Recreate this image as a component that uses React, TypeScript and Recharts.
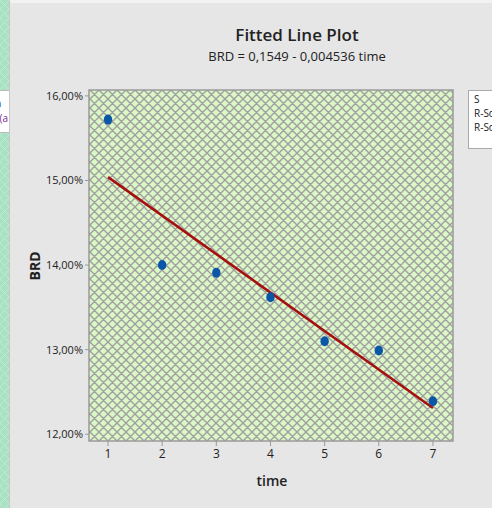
import React from 'react';
import { ComposedChart, Scatter, Line, XAxis, YAxis, ReferenceArea } from 'recharts';

const times = [1, 2, 3, 4, 5, 6, 7];
const brdValues = [15.72, 14.0, 13.91, 13.62, 13.1, 12.99, 12.39];
const fitTimes = [1, 7];
const fitValues = [15.04, 12.31];
const yTicks = [12, 13, 14, 15, 16];
const xTicks = [1, 2, 3, 4, 5, 6, 7];
const legendLines = ['S', 'R-Sq', 'R-Sq(adj)'];

const data = times.map((t, i) => {
  const fi = fitTimes.indexOf(t);
  return { time: t, brd: brdValues[i], fit: fi >= 0 ? fitValues[fi] : null };
});

const FONT = '"Open Sans", "Noto Sans", sans-serif';

const Dot = (props: any) => {
  const { cx, cy } = props;
  if (cx == null || cy == null) return null;
  return <ellipse cx={cx} cy={cy} rx={4.2} ry={5} fill="#0a57a8" />;
};

const fmtPct = (v: number) => v.toFixed(2).replace('.', ',') + '%';

export default function App() {
  return (
    <div style={{ position: 'absolute', left: 0, top: 0, width: 492, height: 508, background: '#e6e6e6', overflow: 'hidden', fontFamily: FONT }}>
      <div style={{ position: 'absolute', left: 0, top: 0, width: 492, height: 3, background: '#f2f2f2' }} />
      <svg style={{ position: 'absolute', left: 0, top: 0 }} width={10} height={508}>
        <defs>
          <pattern id="hatchL" width="9" height="9" patternUnits="userSpaceOnUse">
            <rect width="9" height="9" fill="#a9e2c3" />
            <path d="M0,0 L9,9 M9,0 L0,9" stroke="#bfe9d2" strokeWidth="1" />
          </pattern>
        </defs>
        <rect x={0} y={0} width={9} height={508} fill="url(#hatchL)" />
        <rect x={9} y={0} width={1} height={508} fill="#c8c8c8" />
      </svg>
      <div style={{ position: 'absolute', left: 0, top: 90, width: 9, height: 41, background: '#ffffff', borderTop: '1px solid #bbb', borderBottom: '1px solid #bbb', overflow: 'hidden' }}>
        <div style={{ position: 'absolute', left: -6, top: 6, fontSize: 11, lineHeight: '12px', color: '#1a1a9a', fontWeight: 700, whiteSpace: 'nowrap' }}>n</div>
        <div style={{ position: 'absolute', left: -6, top: 21, fontSize: 10, lineHeight: '12px', color: '#7a2a9a', whiteSpace: 'nowrap' }}><span style={{ color: '#1a1a9a' }}>g</span>(a</div>
      </div>
      <div style={{ position: 'absolute', left: 0, width: 594, top: 25, textAlign: 'center', fontSize: 17, fontWeight: 600, color: '#222', lineHeight: '20px' }}>Fitted Line Plot</div>
      <div style={{ position: 'absolute', left: 0, width: 594, top: 48, textAlign: 'center', fontSize: 13, color: '#222', lineHeight: '16px' }}>BRD = 0,1549 - 0,004536 time</div>
      <div style={{ position: 'absolute', left: 35, top: 266, width: 0, height: 0 }}>
        <div style={{ position: 'absolute', left: -30, top: -9, width: 60, textAlign: 'center', transform: 'rotate(-90deg)', fontSize: 14, fontWeight: 700, color: '#222', lineHeight: '18px' }}>BRD</div>
      </div>
      <div style={{ position: 'absolute', left: 232, top: 471, width: 80, textAlign: 'center', fontSize: 14, fontWeight: 600, color: '#222', lineHeight: '20px' }}>time</div>
      <div style={{ position: 'absolute', left: 468, top: 90, width: 60, height: 59, background: '#fff', border: '1px solid #aaa', boxSizing: 'border-box' }}>
        {legendLines.map((l, i) => (
          <div key={l} style={{ position: 'absolute', left: 5, top: 2 + i * 14, fontSize: 10, lineHeight: '13px', color: '#222', whiteSpace: 'nowrap' }}>{l}</div>
        ))}
      </div>
      <div style={{ position: 'absolute', left: 0, top: 0 }}>
        <ComposedChart width={492} height={508} data={data} margin={{ top: 90, right: 39, bottom: 0, left: 0 }}>
          <defs>
            <pattern id="hatch" width="9" height="9" patternUnits="userSpaceOnUse">
              <rect width="9" height="9" fill="#dcf7c6" />
              <path d="M0,0 L9,9 M9,0 L0,9 M-1,8 L1,10 M8,-1 L10,1" stroke="#a0a0a0" strokeWidth="1.4" />
            </pattern>
          </defs>
          <XAxis
            type="number"
            dataKey="time"
            domain={[0.649, 7.37]}
            ticks={xTicks}
            height={67}
            tickSize={5}
            tickMargin={3}
            axisLine={false}
            tickLine={{ stroke: '#999' }}
            tick={{ fontSize: 12, fill: '#222', fontFamily: FONT }}
            allowDataOverflow
          />
          <YAxis
            type="number"
            domain={[11.92, 16.07]}
            ticks={yTicks}
            width={89}
            tickSize={4}
            tickMargin={2}
            axisLine={false}
            tickLine={{ stroke: '#999' }}
            tickFormatter={fmtPct}
            tick={{ fontSize: 11, fill: '#222', fontFamily: FONT }}
            allowDataOverflow
          />
          <ReferenceArea x1={0.649} x2={7.37} y1={11.92} y2={16.07} fill="url(#hatch)" fillOpacity={1} stroke="#9a9a9a" strokeWidth={1.5} ifOverflow="visible" />
          <Line dataKey="fit" stroke="#a50f0f" strokeWidth={2.5} dot={false} connectNulls isAnimationActive={false} />
          <Scatter dataKey="brd" shape={<Dot />} isAnimationActive={false} />
        </ComposedChart>
      </div>
    </div>
  );
}
